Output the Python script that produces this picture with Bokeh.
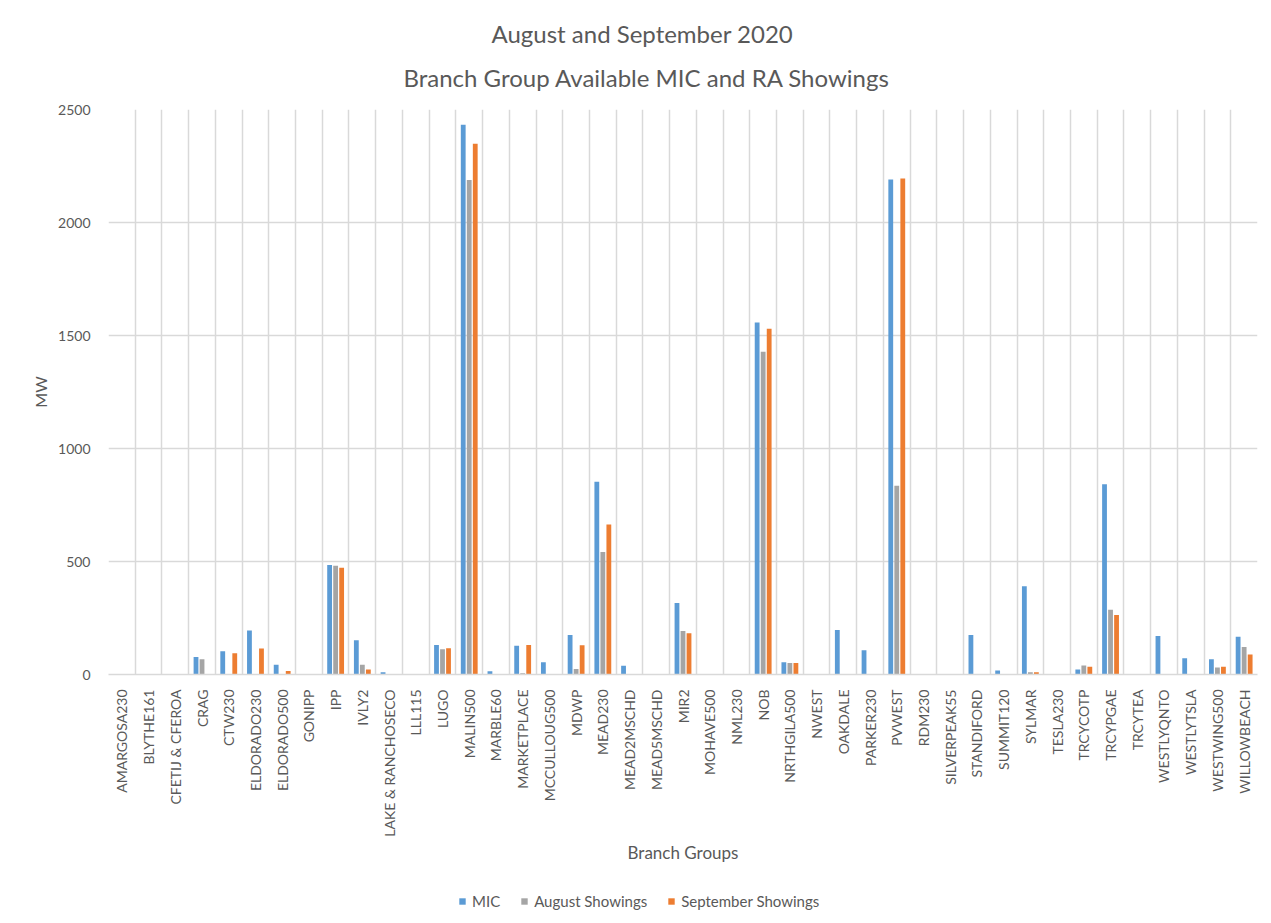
import numpy as np
from bokeh.plotting import figure
from bokeh.layouts import column
from bokeh.models import (ColumnDataSource, Range1d, FixedTicker, Grid, Title,
                          Legend, LegendItem)
from bokeh.transform import dodge
from bokeh.embed import file_html
from bokeh.resources import INLINE

categories = ["AMARGOSA230", "BLYTHE161", "CFETIJ & CFEROA", "CRAG", "CTW230",
              "ELDORADO230", "ELDORADO500", "GONIPP", "IPP", "IVLY2",
              "LAKE & RANCHOSECO", "LLL115", "LUGO", "MALIN500", "MARBLE60",
              "MARKETPLACE", "MCCULLOUG500", "MDWP", "MEAD230", "MEAD2MSCHD",
              "MEAD5MSCHD", "MIR2", "MOHAVE500", "NML230", "NOB", "NRTHGILA500",
              "NWEST", "OAKDALE", "PARKER230", "PVWEST", "RDM230", "SILVERPEAK55",
              "STANDIFORD", "SUMMIT120", "SYLMAR", "TESLA230", "TRCYCOTP",
              "TRCYPGAE", "TRCYTEA", "WESTLYQNTO", "WESTLYTSLA", "WESTWING500",
              "WILLOWBEACH"]
mic = [0, 0, 0, 77, 103, 195, 43, 0, 485, 152,
       10, 0, 130, 2432, 14, 127, 54, 175, 853, 39,
       0, 316, 0, 0, 1558, 54, 0, 197, 107, 2190,
       0, 0, 175, 18, 390, 0, 22, 842, 0, 170,
       72, 67, 167]
august = [0, 0, 0, 67, 0, 0, 0, 0, 481, 43,
          0, 0, 112, 2188, 0, 6, 0, 24, 542, 0,
          0, 192, 0, 0, 1428, 51, 0, 0, 0, 835,
          0, 0, 0, 0, 10, 0, 40, 286, 0, 0,
          0, 31, 122]
september = [0, 0, 0, 0, 94, 115, 15, 0, 472, 22,
             0, 0, 116, 2348, 0, 130, 0, 129, 664, 0,
             0, 183, 0, 0, 1530, 51, 0, 0, 0, 2195,
             0, 0, 0, 0, 10, 0, 34, 263, 0, 0,
             0, 34, 88]
y_ticks = [0, 500, 1000, 1500, 2000, 2500]
series_names = ["MIC", "August Showings", "September Showings"]
colors = ["#5B9BD5", "#A5A5A5", "#ED7D31"]

FONT = "Lato"
TXT = "#595959"
GRID = "#D9D9D9"

n = len(categories)
src = ColumnDataSource(dict(x=list(range(n)), mic=mic, aug=august, sep=september))
cols = ["mic", "aug", "sep"]
offsets = [-0.225, 0.0, 0.225]

p = figure(width=1271, height=870, output_backend="svg", toolbar_location=None,
           x_range=Range1d(-0.5, n - 0.5), y_range=Range1d(0, 2500))
p.min_border_left = 108
p.min_border_right = 14
p.min_border_bottom = 196
p.min_border_top = 109
p.outline_line_color = None
p.background_fill_color = "white"
p.border_fill_color = "white"

w = 0.18
for col, off, c in zip(cols, offsets, colors):
    p.vbar(x=dodge("x", off, range=p.x_range), top=col, width=w, source=src,
           fill_color=c, line_color=None)

# axes
p.xaxis.ticker = FixedTicker(ticks=list(range(n)))
p.xaxis.major_label_overrides = {i: c for i, c in enumerate(categories)}
p.xaxis.major_label_orientation = np.pi / 2
p.xaxis.major_tick_line_color = None
p.xaxis.minor_tick_line_color = None
p.xaxis.axis_line_color = GRID
p.xaxis.axis_line_width = 1.5
p.xaxis.major_label_text_font = FONT
p.xaxis.major_label_text_font_size = "14px"
p.xaxis.major_label_text_color = TXT
p.xaxis.major_label_standoff = 9
p.xaxis.axis_label = "Branch Groups"
p.xaxis.axis_label_text_font = FONT
p.xaxis.axis_label_text_font_size = "17px"
p.xaxis.axis_label_text_font_style = "normal"
p.xaxis.axis_label_text_color = TXT
p.xaxis.axis_label_standoff = 2

p.yaxis.ticker = FixedTicker(ticks=y_ticks)
p.yaxis.axis_line_color = None
p.yaxis.major_tick_line_color = None
p.yaxis.minor_tick_line_color = None
p.yaxis.major_label_text_font = FONT
p.yaxis.major_label_text_font_size = "14px"
p.yaxis.major_label_text_color = TXT
p.yaxis.major_label_standoff = 12
p.yaxis.axis_label = "MW"
p.yaxis.axis_label_text_font = FONT
p.yaxis.axis_label_text_font_size = "16px"
p.yaxis.axis_label_text_font_style = "normal"
p.yaxis.axis_label_text_color = TXT
p.yaxis.axis_label_standoff = 5

# grids
p.xgrid.visible = False
p.ygrid.grid_line_color = GRID
p.ygrid.grid_line_width = 1.5
vgrid = Grid(dimension=0, ticker=FixedTicker(ticks=[i - 0.5 for i in range(n + 1)]),
             grid_line_color=GRID, grid_line_width=1.5)
p.add_layout(vgrid)

# titles
sub = Title(text="Branch Group Available MIC and RA Showings", align="left",
            offset=295, text_font=FONT, text_font_size="24px",
            text_font_style="normal", text_color=TXT, standoff=36)
main = Title(text="August and September 2020", align="left", offset=383,
             text_font=FONT, text_font_size="24px", text_font_style="normal",
             text_color=TXT, standoff=-10)
p.title = None
p.add_layout(sub, "above")
p.add_layout(main, "above")

# legend strip below the chart (proxy bars of the same data, kept out of view)
q = figure(width=1271, height=53, output_backend="svg", toolbar_location=None,
           x_axis_type=None, y_axis_type=None,
           x_range=Range1d(-0.5, n - 0.5), y_range=Range1d(5000, 5001))
q.min_border = 0
q.outline_line_color = None
q.xgrid.visible = False
q.ygrid.visible = False
q.border_fill_color = "white"
legend_renderers = [q.vbar(x="x", top=col, width=w, source=src,
                           fill_color=c, line_color=None)
                    for col, c in zip(cols, colors)]
legend = Legend(items=[LegendItem(label=s, renderers=[r])
                       for s, r in zip(series_names, legend_renderers)],
                orientation="horizontal", location=(350, 13),
                label_text_font=FONT, label_text_font_size="15px",
                label_text_color=TXT, glyph_width=8, glyph_height=8,
                spacing=20, border_line_color=None, background_fill_alpha=0,
                margin=0, padding=0, label_standoff=6)
q.add_layout(legend, "center")

open("out.html", "w").write(file_html(column(p, q, spacing=0), INLINE))
